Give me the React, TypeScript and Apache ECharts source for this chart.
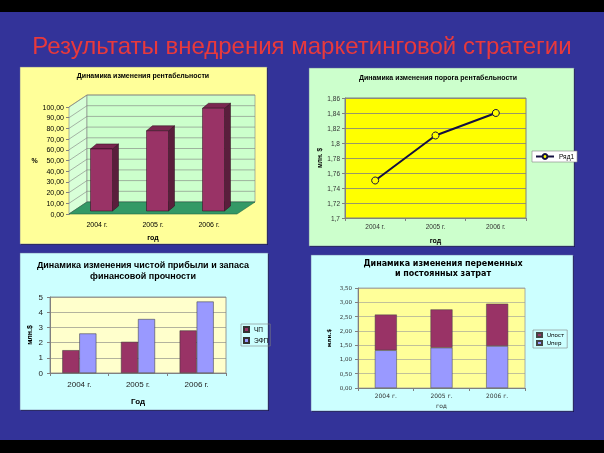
import React, { useEffect, useRef } from "react";
import * as echarts from "echarts";

// ---------- data ----------
const years = ["2004 г.", "2005 г.", "2006 г."];
const profitability = [58, 75, 96];
const profitTicks = [0, 10, 20, 30, 40, 50, 60, 70, 80, 90, 100];
const breakEven = [1.75, 1.81, 1.84];
const netProfit = [1.5, 2.05, 2.8];
const safetyMargin = [2.6, 3.55, 4.7];
const variableCosts = [1.32, 1.41, 1.47];
const fixedCosts = [1.25, 1.34, 1.48];

const FONT = "'Liberation Sans', Arial, sans-serif";
const WIDE = "'DejaVu Sans', sans-serif";
const DX = 18;
const DY = -12;

const comma2 = (v: number) => v.toFixed(2).replace(".", ",");
const commaShort = (v: number) => String(+v.toFixed(2)).replace(".", ",");

function renderWalls(params: any, api: any) {
  const cs = params.coordSys;
  const x = cs.x, y = cs.y, w = cs.width, h = cs.height;
  const children: any[] = [];
  children.push({
    type: "polygon",
    shape: { points: [[x, y], [x + DX, y + DY], [x + DX, y + h + DY], [x, y + h]] },
    style: { fill: "#D8FFD8", stroke: "#808080", lineWidth: 0.6 },
  });
  children.push({
    type: "rect",
    shape: { x: x + DX, y: y + DY, width: w, height: h },
    style: { fill: "#CCFFCC", stroke: "#808080", lineWidth: 0.6 },
  });
  for (const v of profitTicks) {
    const yy = api.coord([0, v])[1];
    children.push({
      type: "polyline",
      shape: { points: [[x, yy], [x + DX, yy + DY], [x + w + DX, yy + DY]] },
      style: { stroke: "#808080", lineWidth: 0.6, fill: "none" },
    });
  }
  children.push({
    type: "polygon",
    shape: { points: [[x, y + h], [x + w, y + h], [x + w + DX, y + h + DY], [x + DX, y + h + DY]] },
    style: { fill: "#339966", stroke: "#226644", lineWidth: 0.6 },
  });
  return { type: "group", children };
}

function renderBar3d(params: any, api: any) {
  const idx = api.value(0);
  const val = api.value(1);
  const top = api.coord([idx, val]);
  const base = api.coord([idx, 0]);
  const hw = 11;
  const ox = DX * 0.25, oy = DY * 0.25;
  const bx = 6, by = -5;
  const x0 = top[0] - hw + ox, x1 = top[0] + hw + ox;
  const yT = top[1] + oy, yB = base[1] + oy;
  const edge = { stroke: "#2a0a1a", lineWidth: 0.5 };
  return {
    type: "group",
    children: [
      { type: "polygon", shape: { points: [[x1, yT], [x1 + bx, yT + by], [x1 + bx, yB + by], [x1, yB]] }, style: { fill: "#5a1e3c", ...edge } },
      { type: "polygon", shape: { points: [[x0, yT], [x1, yT], [x1 + bx, yT + by], [x0 + bx, yT + by]] }, style: { fill: "#7a2850", ...edge } },
      { type: "rect", shape: { x: x0, y: yT, width: x1 - x0, height: yB - yT }, style: { fill: "#993366", ...edge } },
    ],
  };
}

export default function App() {
  const ref = useRef<HTMLDivElement>(null);
  useEffect(() => {
    if (!ref.current) return;
    const chart = echarts.init(ref.current, undefined, { renderer: "svg" });
    const panel = (x: number, y: number, w: number, h: number, fill: string) => [
      { type: "rect", z: -9, shape: { x: x + 1, y: y + 1, width: w, height: h }, style: { fill: "#1a1a55" } },
      { type: "rect", z: -8, shape: { x, y, width: w, height: h }, style: { fill, stroke: "#666699", lineWidth: 0.5 } },
    ];
    const axisLbl = (size: number, extra: any = {}) => ({ fontSize: size, color: "#000", fontFamily: FONT, ...extra });
    const option: any = {
      animation: false,
      textStyle: { fontFamily: FONT },
      graphic: {
        elements: [
          { type: "rect", z: -10, shape: { x: 0, y: 0, width: 604, height: 453 }, style: { fill: "#000" } },
          { type: "rect", z: -10, shape: { x: 0, y: 12, width: 604, height: 428 }, style: { fill: "#333399" } },
          ...panel(20, 67, 247, 177, "#FFFF99"),
          ...panel(309, 68, 265, 178, "#CCFFCC"),
          ...panel(20, 253, 248, 157, "#CCFFFF"),
          ...panel(311, 255, 262, 156, "#CCFFFF"),
        ],
      },
      title: [
        { text: "Результаты внедрения маркетинговой стратегии", left: "center", top: 33, padding: 0,
          textStyle: { color: "#E8393C", fontSize: 24, fontWeight: "normal", fontFamily: FONT } },
        { text: "Динамика изменения рентабельности", left: 143, top: 72, textAlign: "center", padding: 0,
          textStyle: { fontSize: 7, fontWeight: "bold", color: "#000", fontFamily: FONT } },
        { text: "Динамика изменения порога рентабельности", left: 438, top: 74, textAlign: "center", padding: 0,
          textStyle: { fontSize: 7, fontWeight: "bold", color: "#000", fontFamily: FONT } },
        { text: "Динамика изменения чистой прибыли и запаса\nфинансовой прочности", left: 143, top: 259, textAlign: "center", padding: 0,
          textStyle: { fontSize: 9, fontWeight: "bold", color: "#000", lineHeight: 11, fontFamily: FONT } },
        { text: "Динамика изменения переменных\nи постоянных затрат", left: 443, top: 258, textAlign: "center", padding: 0,
          textStyle: { fontSize: 8, fontWeight: "bold", color: "#000", lineHeight: 10, fontFamily: WIDE } },
      ],
      legend: [
        { data: ["Ряд1"], left: 532, top: 151, orient: "vertical", padding: [2, 3], backgroundColor: "#FFFFFF",
          borderColor: "#808080", borderWidth: 0.6, itemWidth: 18, itemHeight: 6,
          textStyle: { fontSize: 6.5, color: "#000", fontFamily: FONT } },
        { data: ["ЧП", "ЭФП"], left: 241, top: 324, orient: "vertical", padding: [2, 2], itemGap: 4,
          borderColor: "#808080", borderWidth: 0.6, itemWidth: 5, itemHeight: 5, icon: "rect",
          textStyle: { fontSize: 6.5, color: "#000", fontFamily: FONT } },
        { data: ["Uпост", "Uпер"], left: 533, top: 330, orient: "vertical", padding: [2, 3], itemGap: 2,
          borderColor: "#808080", borderWidth: 0.6, itemWidth: 5, itemHeight: 4, icon: "rect",
          textStyle: { fontSize: 5.5, color: "#000", fontFamily: WIDE } },
      ],
      grid: [
        { left: 69, top: 107, width: 168, height: 107 },
        { left: 345, top: 98, width: 181, height: 120, show: true, backgroundColor: "#FFFF00", borderColor: "#808080", borderWidth: 1 },
        { left: 50, top: 297, width: 176, height: 76, show: true, backgroundColor: "#FFFFCC", borderColor: "#808080", borderWidth: 0.8 },
        { left: 358, top: 288, width: 167, height: 100, show: true, backgroundColor: "#FFFF99", borderColor: "#999999", borderWidth: 0.8 },
      ],
      xAxis: [
        { type: "category", gridIndex: 0, data: years, axisLine: { show: false }, axisTick: { show: false },
          axisLabel: axisLbl(7, { margin: 7 }), name: "год", nameLocation: "middle", nameGap: 20,
          nameTextStyle: { fontSize: 7, fontWeight: "bold", color: "#000" } },
        { type: "category", gridIndex: 1, data: years, axisLine: { lineStyle: { color: "#808080" } },
          axisTick: { show: true, length: 3, lineStyle: { color: "#808080" } },
          axisLabel: axisLbl(6.5, { margin: 5, color: "#333" }), name: "год", nameLocation: "middle", nameGap: 19,
          nameTextStyle: { fontSize: 7, fontWeight: "bold", color: "#000" } },
        { type: "category", gridIndex: 2, data: years, axisLine: { lineStyle: { color: "#808080" } },
          axisTick: { show: true, length: 3, lineStyle: { color: "#808080" } },
          axisLabel: axisLbl(8, { margin: 7, color: "#222" }), name: "Год", nameLocation: "middle", nameGap: 24,
          nameTextStyle: { fontSize: 8, fontWeight: "bold", color: "#000" } },
        { type: "category", gridIndex: 3, data: years, axisLine: { lineStyle: { color: "#808080" } },
          axisTick: { show: true, length: 3, lineStyle: { color: "#808080" } },
          axisLabel: axisLbl(6, { margin: 4, color: "#333", fontFamily: WIDE }), name: "год", nameLocation: "middle", nameGap: 14,
          nameTextStyle: { fontSize: 6, color: "#333", fontFamily: WIDE } },
      ],
      yAxis: [
        { type: "value", gridIndex: 0, min: 0, max: 100, interval: 10,
          axisLine: { show: true, lineStyle: { color: "#808080" } }, axisTick: { show: true, length: 3, lineStyle: { color: "#808080" } },
          splitLine: { show: false }, axisLabel: axisLbl(7, { margin: 5, formatter: comma2 }),
          name: "%", nameLocation: "middle", nameGap: 30, nameRotate: 0,
          nameTextStyle: { fontSize: 7, fontWeight: "bold", color: "#000" } },
        { type: "value", gridIndex: 1, min: 1.7, max: 1.86, interval: 0.02,
          axisLine: { show: true, lineStyle: { color: "#808080" } }, axisTick: { show: true, length: 3, lineStyle: { color: "#808080" } },
          splitLine: { show: true, lineStyle: { color: "#808080", width: 0.8 } },
          axisLabel: axisLbl(6.5, { margin: 5, color: "#333", formatter: commaShort }),
          name: "млн. $", nameLocation: "middle", nameGap: 22, nameRotate: 90,
          nameTextStyle: { fontSize: 6.5, fontWeight: "bold", color: "#000" } },
        { type: "value", gridIndex: 2, min: 0, max: 5, interval: 1,
          axisLine: { show: true, lineStyle: { color: "#808080" } }, axisTick: { show: true, length: 3, lineStyle: { color: "#808080" } },
          splitLine: { show: true, lineStyle: { color: "#808080", width: 0.6 } },
          axisLabel: axisLbl(8, { margin: 7, color: "#222" }),
          name: "млн.$", nameLocation: "middle", nameGap: 17, nameRotate: 90,
          nameTextStyle: { fontSize: 7, fontWeight: "bold", color: "#000" } },
        { type: "value", gridIndex: 3, min: 0, max: 3.5, interval: 0.5,
          axisLine: { show: true, lineStyle: { color: "#808080" } }, axisTick: { show: true, length: 3, lineStyle: { color: "#808080" } },
          splitLine: { show: true, lineStyle: { color: "#999999", width: 0.6 } },
          axisLabel: axisLbl(5.5, { margin: 6, color: "#333", fontFamily: WIDE, formatter: comma2 }),
          name: "млн.$", nameLocation: "middle", nameGap: 26, nameRotate: 90,
          nameTextStyle: { fontSize: 5.5, fontWeight: "bold", color: "#000", fontFamily: WIDE } },
      ],
      series: [
        { type: "custom", xAxisIndex: 0, yAxisIndex: 0, z: 1, data: [[0, 0]], renderItem: renderWalls, silent: true },
        { type: "custom", xAxisIndex: 0, yAxisIndex: 0, z: 3, data: profitability.map((v, i) => [i, v]),
          encode: { x: 0, y: 1 }, renderItem: renderBar3d },
        { type: "line", name: "Ряд1", xAxisIndex: 1, yAxisIndex: 1, data: breakEven, symbol: "circle", symbolSize: 7,
          lineStyle: { color: "#141040", width: 2 },
          itemStyle: { color: "#FFFF00", borderColor: "#141040", borderWidth: 1 } },
        { type: "bar", name: "ЧП", xAxisIndex: 2, yAxisIndex: 2, data: netProfit, barGap: "0%", barCategoryGap: "42%",
          itemStyle: { color: "#993366", borderColor: "#333", borderWidth: 0.5 } },
        { type: "bar", name: "ЭФП", xAxisIndex: 2, yAxisIndex: 2, data: safetyMargin, barGap: "0%", barCategoryGap: "42%",
          itemStyle: { color: "#9999FF", borderColor: "#333", borderWidth: 0.5 } },
        { type: "bar", name: "Uпер", xAxisIndex: 3, yAxisIndex: 3, data: variableCosts, stack: "c", barWidth: 22,
          itemStyle: { color: "#9999FF", borderColor: "#444", borderWidth: 0.5 } },
        { type: "bar", name: "Uпост", xAxisIndex: 3, yAxisIndex: 3, data: fixedCosts, stack: "c", barWidth: 22,
          itemStyle: { color: "#993366", borderColor: "#444", borderWidth: 0.5 } },
      ],
    };
    chart.setOption(option);
    return () => chart.dispose();
  }, []);
  return <div ref={ref} style={{ position: "fixed", left: 0, top: 0, width: 604, height: 453 }} />;
}
